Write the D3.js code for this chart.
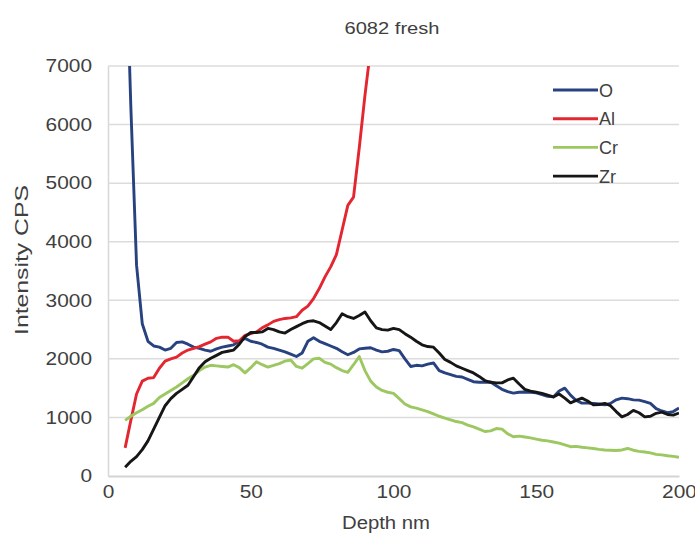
<!DOCTYPE html>
<html>
<head>
<meta charset="utf-8">
<script src="https://cdn.jsdelivr.net/npm/d3@7"></script>
<style>
  body { margin: 0; background: #fff; }
  text { font-family: "Liberation Sans", Arial, sans-serif; fill: #404040; }
</style>
</head>
<body>
<svg id="chart" width="695" height="534"></svg>
<script>
// depth grid in nm, every 2 nm
const depth = d3.range(6, 201, 2);

const oVals = [9500, 6300, 3600, 2600, 2300, 2220, 2200, 2150, 2180, 2280,
  2290, 2250, 2200, 2180, 2150, 2130, 2170, 2200, 2220, 2240,
  2300, 2350, 2300, 2280, 2250, 2200, 2180, 2150, 2120, 2080,
  2040, 2100, 2300, 2360, 2300, 2260, 2220, 2180, 2120, 2070,
  2110, 2170, 2180, 2190, 2150, 2120, 2130, 2160, 2140, 2000,
  1870, 1890, 1880, 1910, 1930, 1800, 1760, 1730, 1700, 1690,
  1650, 1610, 1600, 1600, 1605, 1540, 1480, 1440, 1415, 1430,
  1435, 1430, 1420, 1390, 1360, 1350, 1450, 1500, 1380, 1290,
  1245, 1245, 1240, 1230, 1215, 1240, 1300, 1330, 1320, 1300,
  1295, 1270, 1240, 1150, 1110, 1080, 1100, 1160];

const alVals = [480, 950, 1400, 1620, 1670, 1680, 1840, 1960, 2000, 2030,
  2100, 2150, 2180, 2210, 2250, 2290, 2350, 2370, 2370, 2300,
  2310, 2400, 2430, 2460, 2530, 2580, 2640, 2670, 2690, 2700,
  2720, 2830, 2900, 3030, 3200, 3400, 3570, 3780, 4200, 4620,
  4760, 5600, 6500, 7300];

const crVals = [950, 1020, 1080, 1130, 1190, 1240, 1340, 1400, 1460, 1520,
  1590, 1660, 1720, 1800, 1860, 1890, 1880, 1870, 1860, 1900,
  1850, 1760, 1850, 1950, 1900, 1860, 1890, 1920, 1960, 1980,
  1870, 1840, 1920, 2000, 2010, 1940, 1910, 1850, 1800, 1770,
  1900, 2040, 1800, 1620, 1520, 1460, 1430, 1410, 1320, 1230,
  1180, 1160, 1130, 1100, 1060, 1020, 990, 960, 930, 910,
  870, 840, 800, 760, 770, 810, 800, 720, 670, 680,
  665, 650, 630, 610, 600, 580, 560, 530, 500, 505,
  490, 480, 470, 455, 445, 440, 435, 445, 470, 440,
  420, 410, 395, 370, 360, 345, 335, 320];

const zrVals = [150, 250, 330, 450, 600, 800, 1000, 1200, 1320, 1410,
  1480, 1550, 1700, 1850, 1950, 2010, 2060, 2110, 2130, 2150,
  2250, 2380, 2450, 2450, 2460, 2520, 2500, 2460, 2440, 2500,
  2550, 2600, 2640, 2650, 2620, 2560, 2500, 2620, 2770, 2720,
  2690, 2740, 2800, 2650, 2530, 2500, 2490, 2520, 2500, 2430,
  2370, 2300, 2240, 2210, 2200, 2100, 1990, 1940, 1880, 1840,
  1800, 1760, 1700, 1630, 1600, 1590, 1590, 1640, 1670, 1570,
  1480, 1450, 1430, 1410, 1380, 1350, 1400, 1330, 1250, 1290,
  1330, 1280, 1215, 1220, 1240, 1200, 1100, 1010, 1050, 1120,
  1080, 1010, 1020, 1070, 1090, 1050, 1040, 1075];

const seriesNames = ['O', 'Al', 'Cr', 'Zr'];
const seriesColors = ['#28427f', '#e3262f', '#9cc761', '#161616'];
const xTicks = [0, 50, 100, 150, 200];
const yTicks = [0, 1000, 2000, 3000, 4000, 5000, 6000, 7000];

const series = [oVals, alVals, crVals, zrVals].map(function(vals, i) {
    return {
        name: seriesNames[i],
        color: seriesColors[i],
        points: vals.map(function(v, j) { return [depth[j], v]; })
    };
});

const svg = d3.select('#chart');
const plotLeft = 108, plotRight = 679, plotTop = 66, plotBottom = 476;

let x = d3.scaleLinear().domain([0, 200]).range([plotLeft, plotRight]);
let y = d3.scaleLinear().domain([0, 7000]).range([plotBottom, plotTop]);

svg.append('defs').append('clipPath')
    .attr('id', 'plot-clip')
    .append('rect')
    .attr('x', plotLeft).attr('y', plotTop)
    .attr('width', plotRight - plotLeft).attr('height', plotBottom - plotTop);

// grid lines
svg.append('g')
    .selectAll('line')
    .data(yTicks.filter(function(d) { return d > 0; }))
    .enter().append('line')
    .attr('x1', plotLeft).attr('x2', plotRight)
    .attr('y1', function(d) { return y(d); })
    .attr('y2', function(d) { return y(d); })
    .attr('stroke', '#dcdcdc')
    .attr('stroke-width', 1.5);

let yAxis = svg.append('g')
    .attr('transform', 'translate(' + plotLeft + ',0)')
    .call(d3.axisLeft(y).tickValues(yTicks).tickFormat(d3.format('d'))
        .tickSize(0).tickPadding(16));

let xAxis = svg.append('g')
    .attr('transform', 'translate(0,' + plotBottom + ')')
    .call(d3.axisBottom(x).tickValues(xTicks).tickFormat(d3.format('d'))
        .tickSize(0).tickPadding(9));

yAxis.select('.domain').attr('stroke', '#d8d8d8').attr('stroke-width', 1.5);
xAxis.select('.domain').attr('stroke', '#d4d4d4').attr('stroke-width', 2);

// the labels in the picture are set wide, so stretch them a little
svg.selectAll('.tick text')
    .attr('font-size', 18)
    .attr('font-family', '"Liberation Sans", Arial, sans-serif')
    .attr('fill', '#404040')
    .attr('lengthAdjust', 'spacingAndGlyphs')
    .attr('textLength', function() { return this.textContent.length * 11.6; });

let line = d3.line()
    .x(function(d) { return x(d[0]); })
    .y(function(d) { return y(d[1]); });

svg.append('g')
    .attr('clip-path', 'url(#plot-clip)')
    .selectAll('path')
    .data(series)
    .enter().append('path')
    .attr('d', function(d) { return line(d.points); })
    .attr('fill', 'none')
    .attr('stroke', function(d) { return d.color; })
    .attr('stroke-width', 2.9)
    .attr('stroke-linejoin', 'round');

// legend
let legend = svg.append('g')
    .selectAll('g')
    .data(series)
    .enter().append('g')
    .attr('transform', function(d, i) { return 'translate(553,' + (90 + i * 28.7) + ')'; });

legend.append('line')
    .attr('x1', 0).attr('x2', 45)
    .attr('stroke', function(d) { return d.color; })
    .attr('stroke-width', 2.9);

legend.append('text')
    .attr('x', 46).attr('y', 6.5)
    .attr('font-size', 18)
    .text(function(d) { return d.name; });

svg.append('text')
    .attr('x', 392).attr('y', 34)
    .attr('text-anchor', 'middle')
    .attr('font-size', 17)
    .attr('lengthAdjust', 'spacingAndGlyphs')
    .attr('textLength', 95)
    .text('6082 fresh');

svg.append('text')
    .attr('x', 386).attr('y', 529)
    .attr('text-anchor', 'middle')
    .attr('font-size', 18)
    .attr('lengthAdjust', 'spacingAndGlyphs')
    .attr('textLength', 88)
    .text('Depth nm');

svg.append('text')
    .attr('transform', 'translate(28,260) rotate(-90)')
    .attr('text-anchor', 'middle')
    .attr('font-size', 18)
    .attr('lengthAdjust', 'spacingAndGlyphs')
    .attr('textLength', 150)
    .text('Intensity CPS');
</script>
</body>
</html>
